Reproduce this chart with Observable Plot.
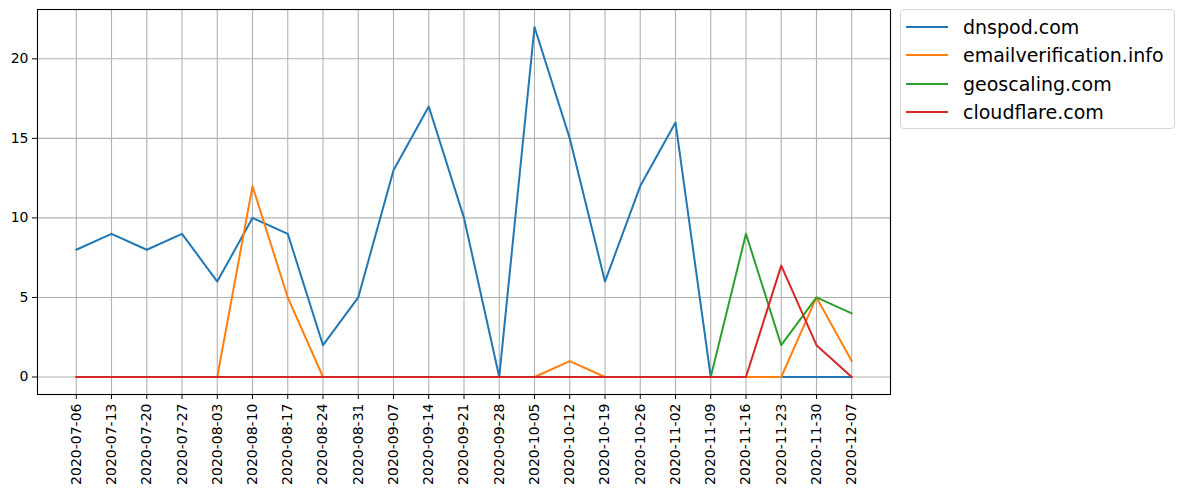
<!DOCTYPE html>
<html>
<head>
<meta charset="utf-8">
<script src="https://cdn.jsdelivr.net/npm/d3@7"></script>
<script src="https://cdn.jsdelivr.net/npm/@observablehq/plot@0.6"></script>
<style>
  html, body { margin: 0; padding: 0; background: white; }
  #wrap { position: relative; width: 1185px; height: 494px; font-family: "DejaVu Sans", sans-serif; }
  #legend { position: absolute; left: 900px; top: 9px; width: 275px; height: 120px; border: 1px solid #d6d6d6; border-radius: 4px; box-sizing: border-box; background: white; }
  .row { position: absolute; left: 0; height: 28px; display: flex; align-items: center; }
  .row svg { margin-left: 5px; }
  .row span { margin-left: 15px; font-size: 19px; color: #000; white-space: nowrap; }
</style>
</head>
<body>
<div id="wrap"><div id="chart"></div><div id="legend"></div></div>
<script>
const dates = ["2020-07-06","2020-07-13","2020-07-20","2020-07-27","2020-08-03","2020-08-10","2020-08-17","2020-08-24","2020-08-31","2020-09-07","2020-09-14","2020-09-21","2020-09-28","2020-10-05","2020-10-12","2020-10-19","2020-10-26","2020-11-02","2020-11-09","2020-11-16","2020-11-23","2020-11-30","2020-12-07"];
const seriesNames = ["dnspod.com","emailverification.info","geoscaling.com","cloudflare.com"];
const seriesColors = ["#1f77b4","#ff7f0e","#2ca02c","#d62728"];
const dnspod = [8,9,8,9,6,10,9,2,5,13,17,10,0,22,15,6,12,16,0,0,0,0,0];
const emailverification = [0,0,0,0,0,12,5,0,0,0,0,0,0,0,1,0,0,0,0,0,0,5,1];
const geoscaling = [0,0,0,0,0,0,0,0,0,0,0,0,0,0,0,0,0,0,0,9,2,5,4];
const cloudflare = [0,0,0,0,0,0,0,0,0,0,0,0,0,0,0,0,0,0,0,0,7,2,0];
const yTicks = [0,5,10,15,20];

const allSeries = [dnspod, emailverification, geoscaling, cloudflare];
const rows = [];
allSeries.forEach((vals, s) => vals.forEach((v, i) => rows.push({i, v, name: seriesNames[s]})));
const idx = d3.range(dates.length);

const chart = Plot.plot({
  width: 1185,
  height: 494,
  marginLeft: 37,
  marginRight: 295,
  marginTop: 9,
  marginBottom: 100,
  style: {fontFamily: "DejaVu Sans", fontSize: "14px", background: "white", color: "black"},
  x: {domain: [-1.1, 23.1]},
  y: {domain: [-1.1, 23.1]},
  color: {domain: seriesNames, range: seriesColors},
  marks: [
    Plot.gridX(idx, {stroke: "#b0b0b0", strokeOpacity: 1, strokeWidth: 1.1}),
    Plot.gridY(yTicks, {stroke: "#b0b0b0", strokeOpacity: 1, strokeWidth: 1.1}),
    Plot.axisX(idx, {tickFormat: i => dates[i], tickRotate: -90, tickSize: 5, tickPadding: 4, label: null, fontSize: 14}),
    Plot.axisY(yTicks, {tickSize: 5, tickPadding: 4, label: null, fontSize: 14}),
    Plot.line(rows, {x: "i", y: "v", z: "name", stroke: "name", strokeWidth: 2}),
    Plot.frame({stroke: "black", strokeWidth: 1.1})
  ]
});
document.getElementById("chart").appendChild(chart);

const legend = document.getElementById("legend");
seriesNames.forEach((n, k) => {
  const r = document.createElement("div");
  r.className = "row";
  r.style.top = (3 + k * 28.3) + "px";
  r.innerHTML = `<svg width="42" height="4"><line x1="0" y1="2" x2="42" y2="2" stroke="${seriesColors[k]}" stroke-width="2"/></svg><span>${n}</span>`;
  legend.appendChild(r);
});
</script>
</body>
</html>
